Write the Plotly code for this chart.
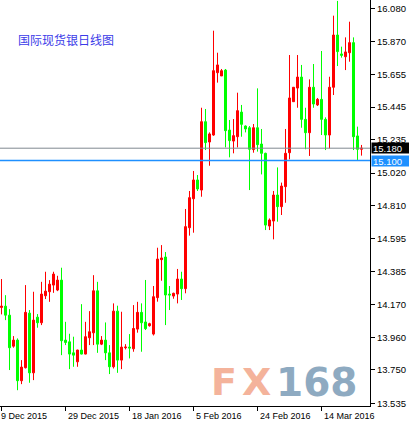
import plotly.graph_objects as go

# Daily OHLC for spot silver (bar index 0..90)
opens = [14.153, 14.161, 14.103, 13.903, 13.942, 13.680, 13.764, 14.116, 13.731, 14.090,
         14.054, 14.228, 14.254, 14.297, 14.265, 14.329, 13.942, 13.931, 13.860, 13.802,
         13.878, 13.852, 13.957, 13.989, 14.260, 13.916, 13.942, 13.860, 13.770, 14.129,
         13.813, 13.893, 13.897, 13.886, 14.013, 14.121, 14.059, 14.035, 13.981, 14.216,
         14.461, 14.478, 14.239, 14.226, 14.239, 14.336, 14.274, 14.667, 14.854, 14.975,
         14.910, 15.351, 15.220, 15.265, 15.667, 15.646, 15.684, 15.297, 15.226, 15.254,
         15.413, 15.323, 15.312, 15.171, 15.312, 15.207, 15.147, 14.678, 14.710, 14.878,
         14.803, 14.932, 15.151, 15.480, 15.568, 15.639, 15.366, 15.280, 15.573, 15.459,
         15.495, 15.366, 15.265, 15.573, 15.910, 15.788, 15.770, 15.796, 15.861, 15.259,
         15.173]
highs = [14.336, 14.232, 14.142, 13.968, 13.953, 13.813, 14.297, 14.136, 14.254, 14.110,
         14.318, 14.383, 14.329, 14.383, 14.357, 14.409, 14.060, 13.983, 13.964, 13.880,
         14.174, 14.060, 14.129, 14.361, 14.318, 13.968, 14.056, 13.910, 14.179, 14.164,
         14.125, 13.916, 13.981, 14.168, 14.189, 14.179, 14.330, 14.054, 14.291, 14.538,
         14.555, 14.510, 14.291, 14.248, 14.401, 14.383, 14.788, 14.904, 15.033, 15.007,
         15.441, 15.433, 15.282, 15.938, 15.796, 15.691, 15.691, 15.362, 15.368, 15.538,
         15.459, 15.327, 15.323, 15.336, 15.566, 15.304, 15.151, 14.727, 14.904, 15.056,
         14.958, 15.304, 15.781, 15.575, 15.781, 15.717, 15.441, 15.624, 15.723, 15.504,
         15.807, 15.379, 15.641, 16.035, 16.130, 15.835, 15.895, 15.996, 15.895, 15.319,
         15.201]
lows = [14.108, 14.071, 13.749, 13.893, 13.619, 13.658, 13.759, 13.667, 13.684, 14.022,
        14.039, 14.207, 14.189, 14.247, 14.258, 13.845, 13.910, 13.755, 13.770, 13.770,
        13.850, 13.850, 13.910, 13.910, 13.860, 13.910, 13.813, 13.723, 13.759, 13.731,
        13.755, 13.882, 13.824, 13.867, 13.990, 13.867, 14.007, 14.029, 13.972, 14.190,
        14.325, 14.039, 14.136, 14.209, 14.179, 14.201, 14.244, 14.616, 14.635, 14.904,
        14.867, 15.168, 15.067, 15.260, 15.603, 15.646, 15.185, 15.121, 15.147, 15.185,
        15.254, 15.282, 14.910, 15.151, 15.158, 15.011, 14.652, 14.652, 14.592, 14.706,
        14.749, 14.828, 15.108, 15.478, 15.441, 15.312, 15.173, 15.130, 15.441, 15.452,
        15.265, 15.168, 15.179, 15.523, 15.710, 15.764, 15.684, 15.738, 15.168, 15.104,
        15.132]
closes = [14.161, 14.103, 13.893, 13.942, 13.680, 13.768, 14.121, 13.731, 14.071, 14.054,
          14.239, 14.258, 14.303, 14.368, 14.329, 13.938, 13.927, 13.852, 13.845, 13.878,
          13.852, 13.964, 13.996, 14.260, 13.916, 13.942, 13.860, 13.770, 14.129, 13.813,
          13.897, 13.897, 13.891, 14.017, 14.121, 14.054, 14.016, 14.048, 14.222, 14.465,
          14.472, 14.233, 14.233, 14.244, 14.336, 14.274, 14.674, 14.861, 14.975, 14.917,
          15.351, 15.216, 15.272, 15.680, 15.717, 15.680, 15.293, 15.229, 15.261, 15.422,
          15.334, 15.304, 15.173, 15.312, 15.203, 15.147, 14.684, 14.717, 14.878, 14.803,
          14.936, 15.147, 15.504, 15.573, 15.639, 15.366, 15.280, 15.573, 15.465, 15.495,
          15.366, 15.265, 15.573, 15.910, 15.803, 15.779, 15.801, 15.861, 15.254, 15.173,
          15.180]

x_tick_idx = [0, 16, 32, 48, 64, 80]
x_tick_text = ["9 Dec 2015", "29 Dec 2015", "18 Jan 2016", "5 Feb 2016", "24 Feb 2016", "14 Mar 2016"]

y_tick_vals = [16.080, 15.870, 15.655, 15.445, 15.235, 15.020, 14.810, 14.595,
               14.385, 14.170, 13.960, 13.750, 13.535]

bid_price = 15.180
level_price = 15.100
title_text = "国际现货银日线图"

bars = list(range(len(opens)))

fig = go.Figure()
fig.add_trace(go.Candlestick(
    x=bars, open=opens, high=highs, low=lows, close=closes,
    increasing=dict(line=dict(color="#FF0000", width=1), fillcolor="#FF0000"),
    decreasing=dict(line=dict(color="#00FF00", width=1), fillcolor="#00FF00"),
    whiskerwidth=0, hoverinfo="skip", showlegend=False,
))

font_main = "Liberation Sans, Arial, sans-serif"

fig.update_layout(
    width=409, height=425,
    margin=dict(l=0, r=39, t=0, b=19, pad=0),
    paper_bgcolor="white", plot_bgcolor="white",
    boxgap=0.5, boxgroupgap=0,
    showlegend=False,
    xaxis=dict(
        range=[-0.375, 92.125], rangeslider=dict(visible=False),
        showgrid=False, zeroline=False,
        showline=True, linecolor="black", linewidth=1,
        tickmode="array", tickvals=x_tick_idx, ticks="outside", ticklen=4,
        tickcolor="black", tickwidth=1, showticklabels=False,
    ),
    yaxis=dict(
        range=[13.517, 16.136], side="right",
        showgrid=False, zeroline=False,
        showline=True, linecolor="black", linewidth=1,
        tickmode="array", tickvals=y_tick_vals,
        ticktext=["%.3f" % v for v in y_tick_vals],
        ticks="outside", ticklen=4, tickcolor="black", tickwidth=1,
        tickfont=dict(family=font_main, size=9.5, color="black"),
    ),
)

# horizontal price lines
fig.add_shape(type="line", xref="paper", x0=0, x1=1, yref="y", y0=bid_price, y1=bid_price,
              line=dict(color="#808890", width=1))
fig.add_shape(type="line", xref="paper", x0=0, x1=1, yref="y", y0=level_price, y1=level_price,
              line=dict(color="#1E90FF", width=1.5))

# price labels on the axis
for price, bg in [(bid_price, "black"), (level_price, "#1E90FF")]:
    fig.add_annotation(
        xref="paper", x=1, xanchor="left", xshift=1,
        yref="y", y=price, yanchor="middle",
        text="%.3f" % price, showarrow=False, align="left",
        width=35, height=8, borderpad=1, bgcolor=bg,
        font=dict(family=font_main, size=9.5, color="white"),
    )

# date labels (left-aligned at ticks)
for idx, txt in zip(x_tick_idx, x_tick_text):
    fig.add_annotation(
        xref="x", x=idx, xanchor="left", xshift=(-3 if idx == 0 else 0),
        yref="paper", y=0, yanchor="top", yshift=-3,
        text=txt, showarrow=False,
        font=dict(family=font_main, size=9, color="black"),
    )

# title
fig.add_annotation(
    xref="paper", x=16 / 370, xanchor="left",
    yref="paper", y=1 - 39 / 406, yanchor="middle",
    text=title_text, showarrow=False,
    font=dict(family="Noto Sans CJK SC", size=12, color="#3B3BE8"),
)

# watermark "FX168"
wm_y = 1 - 382 / 406
for txt, px, col, sz in [("F", 209, "#F4B39B", 38), ("X", 240, "#F4B39B", 38),
                         ("168", 274, "#8EAAC1", 39)]:
    fig.add_annotation(
        xref="paper", x=px / 370, xanchor="left",
        yref="paper", y=wm_y, yanchor="middle",
        text="<b>%s</b>" % txt, showarrow=False,
        font=dict(family="DejaVu Sans", size=sz, color=col),
    )

fig.write_html("out.html", config={"displayModeBar": False},
               post_script="document.body.style.margin='0px';")
